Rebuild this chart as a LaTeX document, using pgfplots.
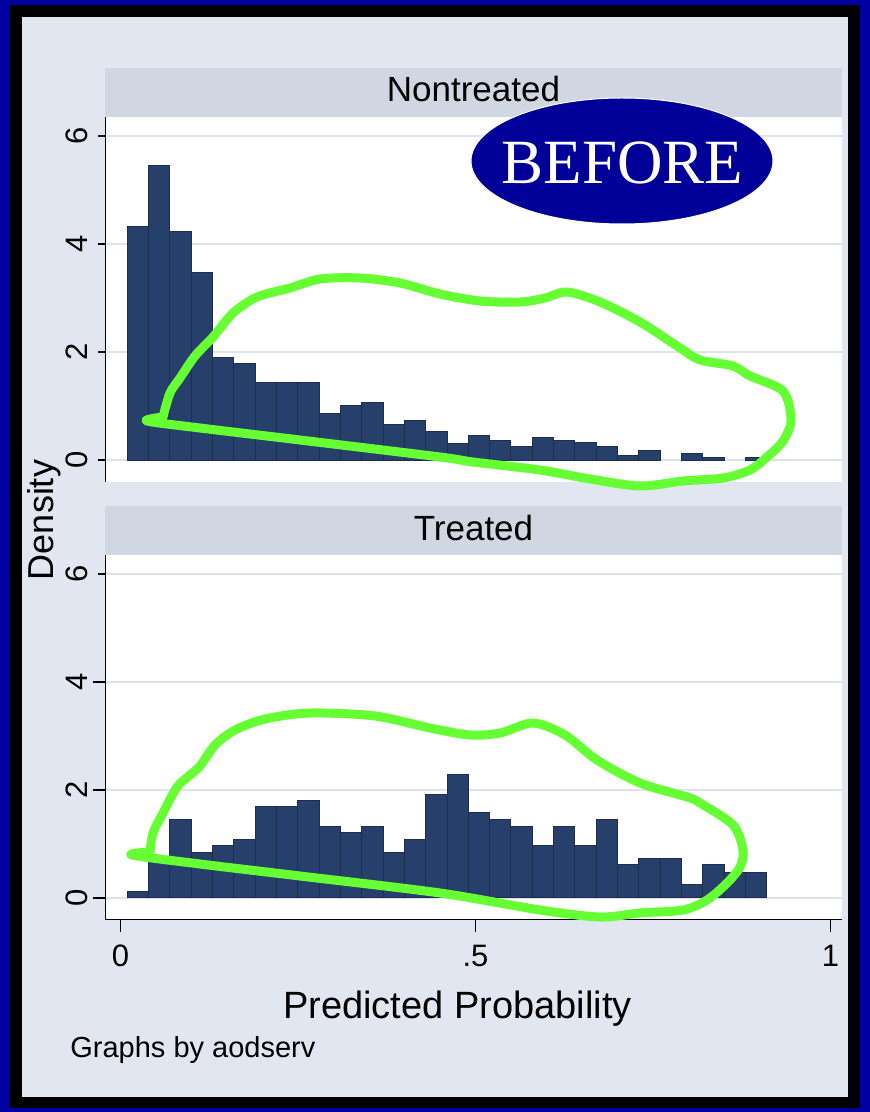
\documentclass[border=0pt]{standalone}
\usepackage{pgfplots}
\pgfplotsset{compat=1.18}
\usepackage{fontspec}
\setmainfont{Liberation Sans}
\newfontfamily\seriffont{Liberation Serif}

\definecolor{frameblue}{RGB}{0,0,160}
\definecolor{bgcol}{RGB}{225,230,240}
\definecolor{stripcol}{RGB}{209,215,226}
\definecolor{gridcol}{RGB}{221,227,237}
\definecolor{barcol}{RGB}{38,63,107}
\definecolor{baredge}{RGB}{28,45,80}
\definecolor{ovalblue}{RGB}{0,0,153}
\definecolor{marker}{RGB}{102,255,51}

% bin width of the histogram (Stata, 30 bins)
\def\binw{0.03002}

\pgfplotsset{
  panel/.style={
    width=368.2pt, height=182.25pt, scale only axis,
    xmin=-0.0214, xmax=1.0158, ymin=-0.4, ymax=6.35,
    axis y line*=left,
    axis line style={-, black, line width=0.65pt},
    axis background/.style={fill=white},
    ytick={0,2,4,6}, yticklabels={0,2,4,6},
    ymajorgrids, major grid style={gridcol, line width=1pt},
    tick align=outside, major tick length=3.5pt,
    tick style={black, line width=0.65pt},
    % rotated labels: local y points to the left
    yticklabel style={rotate=90, anchor=south, inner sep=0pt,
      yshift=5pt, font=\fontsize{15.5}{16}\selectfont},
  },
  hist/.style={ybar, bar width=\binw, bar shift=0pt,
    fill=barcol, draw=baredge, line width=0.5pt},
}

\begin{document}
\begin{tikzpicture}[x=0.5pt,y=-0.5pt]
% frame and background (pixel units)
\fill[frameblue] (0,0) rectangle (870,1112);
\fill[black] (10,5) rectangle (860,1108);
\fill[bgcol] (22,17) rectangle (848,1097);
% panel header strips
\fill[stripcol] (105.3,68.3) rectangle (841.7,116.7);
\fill[stripcol] (105.3,506) rectangle (841.7,555);
\node[anchor=base, inner sep=0pt, font=\fontsize{17.5}{18}\selectfont] at (473.5,102) {Nontreated};
\node[anchor=base, inner sep=0pt, font=\fontsize{17.5}{18}\selectfont] at (473.5,540) {Treated};

% Nontreated
\begin{axis}[panel, at={(52.65pt,-240.85pt)}, anchor=south west,
  axis x line=none]
\addplot[hist] coordinates {
  (0.0246,4.32) (0.0546,5.45) (0.0846,4.23) (0.1147,3.48) (0.1447,1.90)
  (0.1747,1.78) (0.2047,1.43) (0.2347,1.43) (0.2648,1.43) (0.2948,0.86)
  (0.3248,1.02) (0.3548,1.06) (0.3848,0.66) (0.4149,0.74) (0.4449,0.53)
  (0.4749,0.30) (0.5049,0.45) (0.5349,0.36) (0.5650,0.25) (0.5950,0.41)
  (0.6250,0.36) (0.6550,0.33) (0.6850,0.25) (0.7151,0.09) (0.7451,0.17)
  (0.8051,0.13) (0.8351,0.04) (0.8952,0.04)
};
\end{axis}

% Treated
\begin{axis}[panel, at={(52.65pt,-459.75pt)}, anchor=south west,
  axis x line*=bottom,
  major tick length=6.35pt,
  ytick style={shorten <=2.85pt},
  yticklabel style={yshift=-2.85pt},
  xtick={0,0.5,1}, xticklabels={0,.5,1},
  xticklabel style={anchor=north, inner sep=0pt, yshift=-6.25pt,
    font=\fontsize{15.5}{16}\selectfont},
  xlabel={Predicted Probability},
  xlabel style={at={(axis description cs:0.4783,0)}, anchor=base,
    inner sep=0pt, yshift=-49.25pt, font=\fontsize{19}{20}\selectfont}]
\addplot[hist] coordinates {
  (0.0246,0.12) (0.0546,0.75) (0.0846,1.45) (0.1147,0.85) (0.1447,0.97)
  (0.1747,1.08) (0.2047,1.69) (0.2347,1.69) (0.2648,1.80) (0.2948,1.33)
  (0.3248,1.21) (0.3548,1.33) (0.3848,0.85) (0.4149,1.08) (0.4449,1.92)
  (0.4749,2.29) (0.5049,1.58) (0.5349,1.45) (0.5650,1.33) (0.5950,0.97)
  (0.6250,1.33) (0.6550,0.97) (0.6850,1.45) (0.7151,0.62) (0.7451,0.73)
  (0.7751,0.73) (0.8051,0.25) (0.8351,0.62) (0.8652,0.47) (0.8952,0.47)
};
\end{axis}

% common titles
\node[rotate=90, anchor=base, inner sep=0pt, font=\fontsize{18}{20}\selectfont] at (53,520) {Density};
\node[anchor=base west, inner sep=0pt, font=\fontsize{14.5}{16}\selectfont] at (70,1057) {Graphs by aodserv};

% hand-drawn annotations
\draw[marker, line width=4.5pt, line cap=round, line join=round]
  plot[smooth, tension=0.5] coordinates {
  (163,417) (170,393) (180,378) (195,356) (213,337) (233,313) (257,297)
  (290,288) (320,279) (360,278) (400,283) (440,294) (480,301) (520,302)
  (545,298) (567,292) (600,302) (640,322) (680,348) (700,360) (733,366)
  (750,376) (783,391) (791,420) (783,441) (767,457) (750,470) (723,478)
  (683,481) (640,486) (590,479) (540,470) (473,462) (440,457) (300,440)
  (200,428) (147,421) (163,417)};
\draw[marker, line width=4.5pt, line cap=round, line join=round]
  plot[smooth, tension=0.5] coordinates {
  (150,852) (153,833) (163,813) (177,787) (190,775) (200,766) (215,745)
  (235,730) (265,719) (310,713) (375,716) (430,728) (470,735) (500,733)
  (533,723) (565,735) (597,760) (640,783) (687,797) (700,803) (733,825)
  (743,850) (740,867) (727,883) (707,900) (683,910) (640,913) (600,917)
  (540,910) (440,893) (300,876) (200,864) (132,855) (150,852)};
\fill[ovalblue, draw=white, line width=0.5pt] (622,161) ellipse [x radius=75.5pt, y radius=31.5pt];
\node[anchor=base, inner sep=0pt, text=white, font=\seriffont\fontsize{31.5}{32}\selectfont] at (622.5,184) {BEFORE};
\end{tikzpicture}
\end{document}
